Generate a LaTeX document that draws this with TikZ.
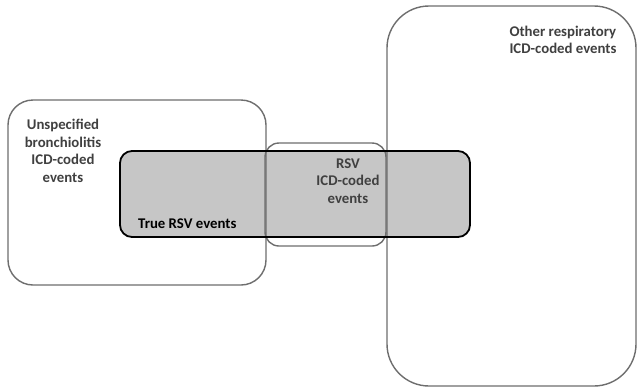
\documentclass[tikz,border=0pt]{standalone}
\usepackage{fontspec}
\setmainfont{Carlito}
\definecolor{txt}{HTML}{404040}
\definecolor{edge}{HTML}{6E6E6E}
\definecolor{fillg}{HTML}{C6C6C6}
\begin{document}
\begin{tikzpicture}[x=1pt,y=-1pt,
  setbox/.style={draw=edge,line width=1.4pt},
  lbl/.style={font=\bfseries\fontsize{14.8}{17.5}\selectfont,text=txt,align=center,inner sep=0pt}]
\useasboundingbox[fill=white] (0,0) rectangle (638,389);
% gray fill of true RSV box
\path[fill=fillg,rounded corners=12] (120,151) rectangle (470,237);
% set outlines
\draw[setbox,rounded corners=25] (8,100) rectangle (266,285);
\draw[setbox,rounded corners=42] (387,6) rectangle (636,386);
\draw[setbox,rounded corners=14] (265,143) rectangle (386,246);
% true RSV outline
\draw[black,line width=1.8pt,rounded corners=12] (120,151) rectangle (470,237);
\node[lbl] (unsp) at (63,151) {Unspecified\\bronchiolitis\\ICD-coded\\events};
\node[lbl,text=black,anchor=west] (true) at (138,224) {True RSV events};
\node[lbl] (rsv) at (348,181) {RSV\\ICD-coded\\events};
\node[lbl,align=left] (other) at (563,40) {Other respiratory\\ICD-coded events};
\end{tikzpicture}
\end{document}
